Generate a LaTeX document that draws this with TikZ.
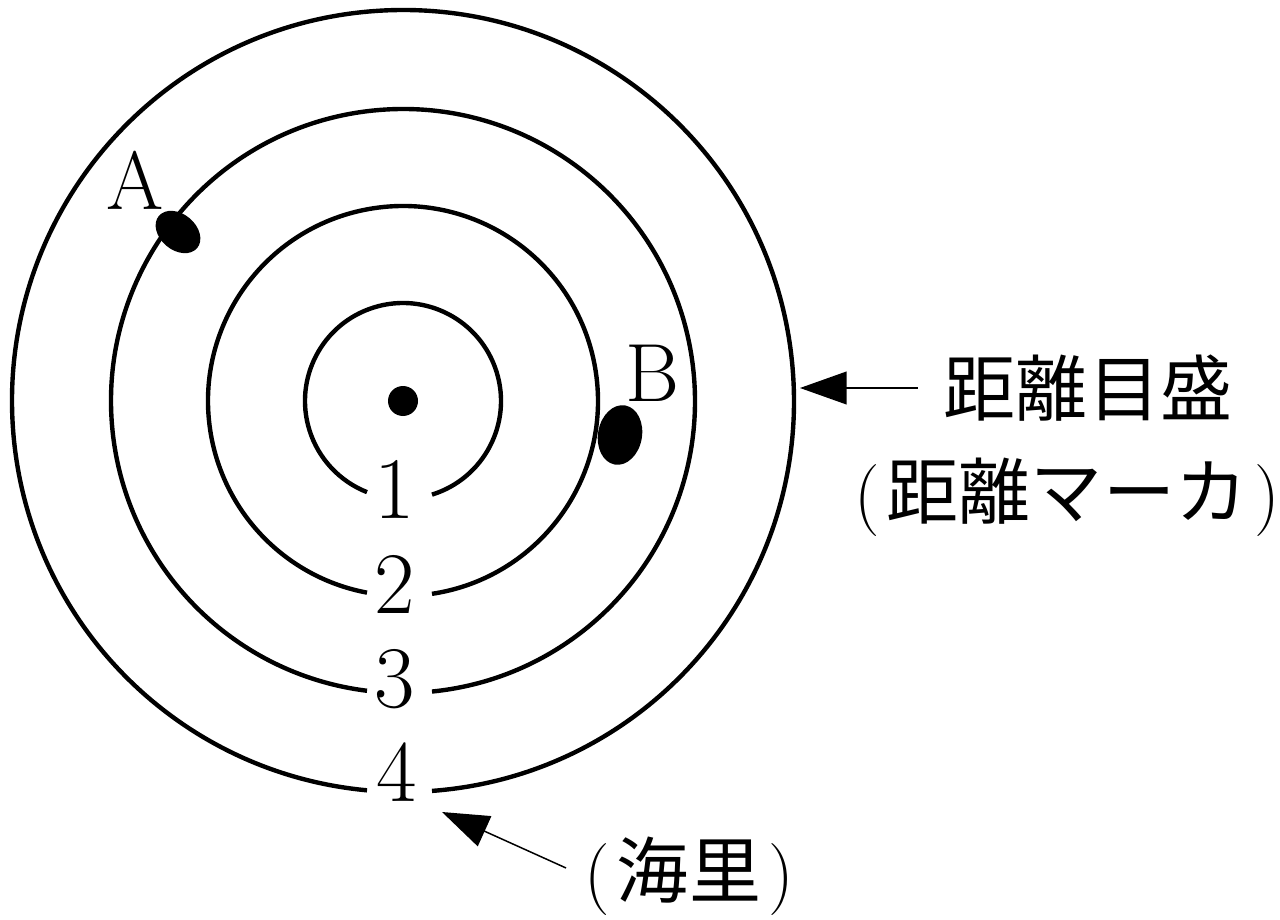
\documentclass[tikz,border=0pt]{standalone}
\usepackage{fontspec}
\newfontfamily\cjk{Noto Sans CJK JP}
\usetikzlibrary{arrows.meta,calc}

\tikzset{
  ring/.style={line width=2.5pt},
  pointer/.style={line width=0.85pt, -{Triangle[length=26.6pt,width=18.7pt]}},
  ringlabel/.style={font=\fontsize{50}{50}\selectfont, inner sep=0pt},
  echolabel/.style={font=\fontsize{47}{47}\selectfont, inner sep=0pt},
  notelabel/.style={font=\fontsize{41}{41}\selectfont}
}

\begin{document}
\begin{tikzpicture}[x=0.02cm, y=0.02cm]
    \useasboundingbox (-403,-518) rectangle (877,401);
    % range rings, open at the bottom for the numbers
    \draw[ring] (-72.79:98) arc (-72.79:248.45:98);
    \draw[ring] (-81.45:195) arc (-81.45:259.36:195);
    \draw[ring] (-84.30:292) arc (-84.30:262.92:292);
    \draw[ring] (-85.75:391) arc (-85.75:264.72:391);
    \node[ringlabel] (one) at (-8,-88) {1};
    \node[ringlabel] (two) at (-8,-183) {2};
    \node[ringlabel] (three) at (-8,-278) {3};
    \node[ringlabel] (four) at (-6,-371) {4};
    % own ship and echoes
    \fill (0,0) circle (15);
    \fill[rotate around={-40:(-225,169)}] (-225,169) ellipse (25 and 18);
    \node[echolabel] (echoA) at (-268,221) {A};
    \fill[rotate around={-10:(217,-34)}] (217,-34) ellipse (22 and 30);
    \node[echolabel] (echoB) at (249,28) {B};
    % notes
    \node[notelabel] (marker) at (685,13) {\cjk 距離目盛};
    \node[notelabel, inner sep=0pt] (markerb) at (664,-96) {(\hspace{0.1em}{\cjk 距離マーカ}\hspace{0.1em})};
    \node[notelabel] (unit) at (286,-475) {(\hspace{0.1em}{\cjk 海里}\hspace{0.1em})};
    \coordinate (edge4) at (397,13);
    \coordinate (gap4) at (39,-411);
    \draw[pointer] ($(marker.west)+(-20,0)$) -- (edge4);
    \draw[pointer] ($(unit.west)+(-12,8)$) -- (gap4);
\end{tikzpicture}
\end{document}
